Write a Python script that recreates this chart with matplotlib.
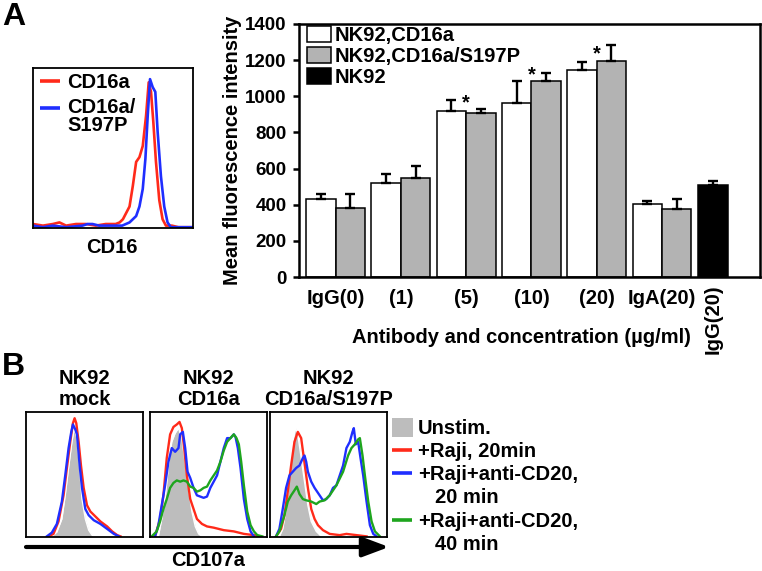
import matplotlib
matplotlib.use('Agg')
import matplotlib.pyplot as plt
from matplotlib.patches import Patch, Rectangle, FancyArrowPatch
from matplotlib.lines import Line2D
import numpy as np

plt.rcParams['font.family'] = ['Liberation Sans', 'DejaVu Sans']
plt.rcParams['font.weight'] = 'bold'

# ---------------- data: bar chart (panel A right) ----------------
groups = ['IgG(0)', '(1)', '(5)', '(10)', '(20)', 'IgA(20)']
cd16a_mean = [430, 521, 921, 962, 1143, 405]
cd16a_err = [32, 50, 59, 120, 48, 17]
s197p_mean = [383, 546, 906, 1087, 1197, 374]
s197p_err = [79, 66, 26, 41, 88, 55]
nk92_label = 'IgG(20)'
nk92_mean = [507]
nk92_err = [26]
star_groups = [2, 3, 4]
star_y = [935, 1090, 1205]
yticks = [0, 200, 400, 600, 800, 1000, 1200, 1400]

# ---------------- data: CD16 histogram (panel A left), channel vs % of max ----------------
a_red_x = [0, 30, 60, 80, 100, 130, 160, 190, 220, 250, 262, 272, 282, 292, 302, 312, 322,
           332, 342, 350, 357, 364, 372, 382, 392, 402, 420, 440, 484]
a_red_y = [2, 1, 2, 3, 1, 2, 2, 1, 2, 2, 3, 5, 9, 13, 26, 41, 44,
           51, 70, 91, 85, 66, 41, 17, 5, 1, 1, 0, 0]
a_blue_x = [0, 30, 60, 100, 150, 165, 180, 200, 240, 270, 292, 312, 322, 332, 340, 347,
            354, 362, 370, 377, 387, 397, 407, 417, 484]
a_blue_y = [1, 0, 1, 0, 1, 2, 2, 1, 1, 1, 3, 7, 13, 24, 43, 70,
            93, 88, 85, 60, 32, 13, 3, 0, 0]

# ---------------- data: CD107a histograms (panel B) ----------------
# NK92 mock
m_gray_x = [77, 92, 107, 117, 127, 137, 144, 152, 160, 167, 177, 187, 197, 202]
m_gray_y = [0, 3.5, 14, 33, 55, 76, 87, 79, 55, 30, 14, 5, 1, 0]
m_red_x = [67, 82, 97, 112, 122, 132, 140, 145, 150, 157, 164, 172, 182, 192, 207, 222, 242, 257, 272, 282]
m_red_y = [0, 2, 12, 33, 55, 76, 91, 95, 91, 76, 57, 39, 25, 20, 16, 12, 8, 4, 1, 0]
m_blue_x = [62, 77, 92, 107, 117, 127, 135, 140, 147, 152, 160, 167, 177, 187, 202, 222, 242, 262, 277]
m_blue_y = [0, 3, 10, 28, 49, 71, 84, 90, 86, 82, 57, 39, 22, 17, 13, 10, 6, 2, 0]

# NK92 CD16a
c_gray_x = [25, 35, 45, 55, 65, 75, 85, 95, 105, 115, 125, 135, 145, 155]
c_gray_y = [0, 14, 30, 57, 76, 83, 87, 79, 59, 39, 20, 8, 2, 0]
c_red_x = [15, 30, 40, 50, 60, 70, 80, 88, 95, 102, 110, 120, 130, 140, 155, 170, 190, 220, 250, 280, 310, 330]
c_red_y = [0, 14, 33, 63, 82, 88, 90, 92, 87, 71, 49, 30, 22, 14, 10, 8, 7, 5, 4, 2, 1, 0]
c_blue_x = [15, 25, 35, 45, 55, 65, 75, 85, 90, 98, 105, 112, 120, 130, 140, 150, 160, 170, 180, 190,
            200, 210, 220, 230, 240, 250, 255, 262, 270, 280, 290, 300, 310]
c_blue_y = [0, 9, 25, 41, 60, 71, 68, 71, 82, 84, 71, 52, 47, 39, 33, 32, 31, 32, 39, 44,
            49, 60, 71, 79, 79, 82, 80, 71, 55, 30, 14, 4, 0]
c_green_x = [5, 20, 30, 40, 50, 60, 70, 80, 90, 100, 110, 120, 130, 140, 150, 160, 170, 180, 190,
             200, 210, 220, 230, 240, 250, 258, 265, 272, 280, 290, 300, 310, 320, 335]
c_green_y = [0, 4, 12, 22, 30, 39, 43, 45, 44, 45, 44, 40, 39, 36, 37, 39, 40, 45, 49,
             53, 60, 69, 76, 79, 82, 79, 74, 60, 41, 20, 9, 4, 1, 0]

# NK92 CD16a/S197P
s_gray_x = [28, 38, 48, 58, 68, 76, 83, 93, 103, 113, 123, 138, 153]
s_gray_y = [0, 6, 22, 49, 76, 87, 82, 63, 44, 25, 12, 4, 0]
s_red_x = [18, 33, 43, 53, 63, 73, 83, 93, 103, 113, 123, 133, 143, 158, 178, 208, 228, 258, 288]
s_red_y = [0, 6, 17, 36, 57, 76, 84, 79, 59, 39, 22, 14, 9, 5, 2, 1, 2, 1, 0]
s_blue_x = [18, 28, 38, 48, 58, 68, 78, 88, 98, 103, 108, 113, 123, 133, 148, 158, 168, 178, 188,
            198, 208, 218, 228, 238, 246, 250, 256, 263, 270, 278, 288, 298, 308, 318]
s_blue_y = [0, 6, 22, 39, 49, 52, 55, 57, 63, 65, 60, 52, 44, 39, 33, 29, 30, 33, 39,
            41, 49, 57, 71, 76, 84, 87, 74, 76, 63, 49, 28, 9, 2, 0]
s_green_x = [18, 28, 43, 53, 63, 73, 80, 88, 98, 108, 123, 138, 148, 163, 178, 198, 218, 233, 243,
             253, 263, 268, 276, 283, 293, 303, 313, 328]
s_green_y = [0, 4, 17, 28, 33, 37, 40, 34, 30, 29, 28, 26, 28, 29, 33, 41, 52, 65, 71,
             74, 78, 79, 65, 49, 28, 12, 4, 0]

b_titles = [('NK92', 'mock'), ('NK92', 'CD16a'), ('NK92', 'CD16a/S197P')]
b_legend = ['Unstim.', '+Raji, 20min', '+Raji+anti-CD20,', '20 min', '+Raji+anti-CD20,', '40 min']

# ---------------- styling ----------------
RED = '#ff2a1a'
BLUE = '#1f2eff'
GREEN = '#1ea51e'
GRAYF = '#bdbdbd'
BARGRAY = '#b3b3b3'
FS = 14.5

W, H = 762, 571
fig = plt.figure(figsize=(W / 100, H / 100), dpi=100)


def rect(x0, y0, x1, y1):
    return [x0 / W, 1 - y1 / H, (x1 - x0) / W, (y1 - y0) / H]


def ftext(x, y, s, **kw):
    kw.setdefault('fontsize', FS)
    kw.setdefault('fontweight', 'bold')
    return fig.text(x / W, 1 - y / H, s, **kw)


def fline(x0, x1, y, color, lw=2.6):
    fig.add_artist(Line2D([x0 / W, x1 / W], [1 - y / H, 1 - y / H], color=color, lw=lw,
                          transform=fig.transFigure, solid_capstyle='butt'))


def hist_box(ax, xmax):
    ax.set_xlim(0, xmax)
    ax.set_ylim(-0.5, 100)
    ax.set_xticks([])
    ax.set_yticks([])
    for s in ax.spines.values():
        s.set_linewidth(1.3)
        s.set_color('black')


# ---------------- Panel A: histogram ----------------
axh = fig.add_axes(rect(33, 68, 193, 228))
hist_box(axh, 484)
axh.plot(a_red_x, a_red_y, color=RED, lw=1.9)
axh.plot(a_blue_x, a_blue_y, color=BLUE, lw=1.9)
ftext(2, 25, 'A', fontsize=23, va='baseline', ha='left')
ftext(112, 253, 'CD16', ha='center', va='baseline')
fline(40, 60, 81, RED)
ftext(67, 88, 'CD16a', ha='left', va='baseline')
fline(40, 60, 108, BLUE)
ftext(67, 113, 'CD16a/', ha='left', va='baseline')
ftext(67, 131, 'S197P', ha='left', va='baseline')

# ---------------- Panel A: bar chart ----------------
axb = fig.add_axes(rect(299, 24, 760, 277))
pos = np.arange(len(groups))
bw = 0.45
axb.bar(pos - bw / 2, cd16a_mean, bw, color='white', edgecolor='black', linewidth=1.1,
        label='NK92,CD16a', zorder=2)
axb.bar(pos + bw / 2, s197p_mean, bw, color=BARGRAY, edgecolor='black', linewidth=1.1,
        label='NK92,CD16a/S197P', zorder=2)
black_pos = [len(groups) - 1 + 0.78]
axb.bar(black_pos, nk92_mean, bw, color='black', edgecolor='black', linewidth=1.1,
        label='NK92', zorder=2)
ekw = dict(fmt='none', ecolor='black', elinewidth=1.7, capsize=3.8, capthick=1.7, zorder=3)
axb.errorbar(pos - bw / 2, cd16a_mean, yerr=[np.zeros(len(groups)), cd16a_err], **ekw)
axb.errorbar(pos + bw / 2, s197p_mean, yerr=[np.zeros(len(groups)), s197p_err], **ekw)
axb.errorbar(black_pos, nk92_mean, yerr=[[0], nk92_err], **ekw)
for g, yv in zip(star_groups, star_y):
    axb.text(pos[g], yv, '*', ha='center', va='baseline', fontsize=FS, fontweight='bold')

axb.set_xlim(-0.56, 6.5)
axb.set_ylim(0, 1400)
axb.set_yticks(yticks)
axb.tick_params(axis='y', labelsize=13.5, length=4, width=1.8, pad=5, direction='out')
axb.set_xticks(pos)
axb.set_xticklabels(groups, fontsize=FS, fontweight='bold')
axb.tick_params(axis='x', length=0, pad=9)
for lbl in axb.get_yticklabels():
    lbl.set_fontweight('bold')
for s in axb.spines.values():
    s.set_linewidth(1.8)
axb.text(black_pos[0], -0.03, nk92_label, transform=axb.get_xaxis_transform(), rotation=90,
         ha='center', va='top', fontsize=FS, fontweight='bold')
ftext(233, 150, 'Mean fluorescence intensity', rotation=90, ha='center', va='center')
ftext(521, 343, 'Antibody and concentration (\u00b5g/ml)', ha='center', va='baseline')

handles = [Patch(facecolor='white', edgecolor='black', linewidth=1.1),
           Patch(facecolor=BARGRAY, edgecolor='black', linewidth=1.1),
           Patch(facecolor='black', edgecolor='black', linewidth=1.1)]
axb.legend(handles, ['NK92,CD16a', 'NK92,CD16a/S197P', 'NK92'], loc='upper left',
           bbox_to_anchor=(0.012, 1.0), frameon=False, handlelength=1.2,
           handleheight=0.85, handletextpad=0.2, labelspacing=0.1, borderpad=0.1,
           borderaxespad=0.0, prop={'weight': 'bold', 'size': FS})

# ---------------- Panel B ----------------
ftext(2, 375, 'B', fontsize=23, va='baseline', ha='left')
boxes = [(26, 412, 143, 537), (150, 412, 267, 537), (270, 412, 387, 537)]
series = [
    (m_gray_x, m_gray_y, [(m_red_x, m_red_y, RED), (m_blue_x, m_blue_y, BLUE)]),
    (c_gray_x, c_gray_y, [(c_red_x, c_red_y, RED), (c_blue_x, c_blue_y, BLUE),
                          (c_green_x, c_green_y, GREEN)]),
    (s_gray_x, s_gray_y, [(s_red_x, s_red_y, RED), (s_blue_x, s_blue_y, BLUE),
                          (s_green_x, s_green_y, GREEN)]),
]
for (x0, y0, x1, y1), (gx, gy, lines), (t1, t2) in zip(boxes, series, b_titles):
    ax = fig.add_axes(rect(x0, y0, x1, y1))
    hist_box(ax, 349)
    ax.fill_between(gx, gy, 0, color=GRAYF, lw=0, zorder=1)
    ax.plot(gx, gy, color='white', lw=1.0, zorder=1.5)
    for lx, ly, c in lines:
        ax.plot(lx, ly, color=c, lw=1.7, zorder=2)
    cx = (x0 + x1) / 2
    ftext(cx, 384, t1, ha='center', va='baseline')
    ftext(cx, 405, t2, ha='center', va='baseline')

arrow = FancyArrowPatch((26 / W, 1 - 547 / H), (389 / W, 1 - 547 / H), transform=fig.transFigure,
                        arrowstyle='-|>,head_length=0.8,head_width=0.3', mutation_scale=20,
                        lw=3, color='black', shrinkA=0, shrinkB=0)
fig.add_artist(arrow)
ftext(208, 566, 'CD107a', ha='center', va='baseline')

# legend for panel B
fig.add_artist(Rectangle((392 / W, 1 - 437 / H), 21 / W, 19 / H, transform=fig.transFigure,
                         facecolor=GRAYF, edgecolor='none'))
ftext(418, 434, b_legend[0], ha='left', va='baseline')
fline(392, 412, 450, RED)
ftext(418, 457, b_legend[1], ha='left', va='baseline')
fline(392, 412, 473, BLUE)
ftext(418, 480, b_legend[2], ha='left', va='baseline')
ftext(435, 503, b_legend[3], ha='left', va='baseline')
fline(392, 412, 520, GREEN)
ftext(418, 527, b_legend[4], ha='left', va='baseline')
ftext(435, 550, b_legend[5], ha='left', va='baseline')

fig.savefig('out.png', dpi=100)
